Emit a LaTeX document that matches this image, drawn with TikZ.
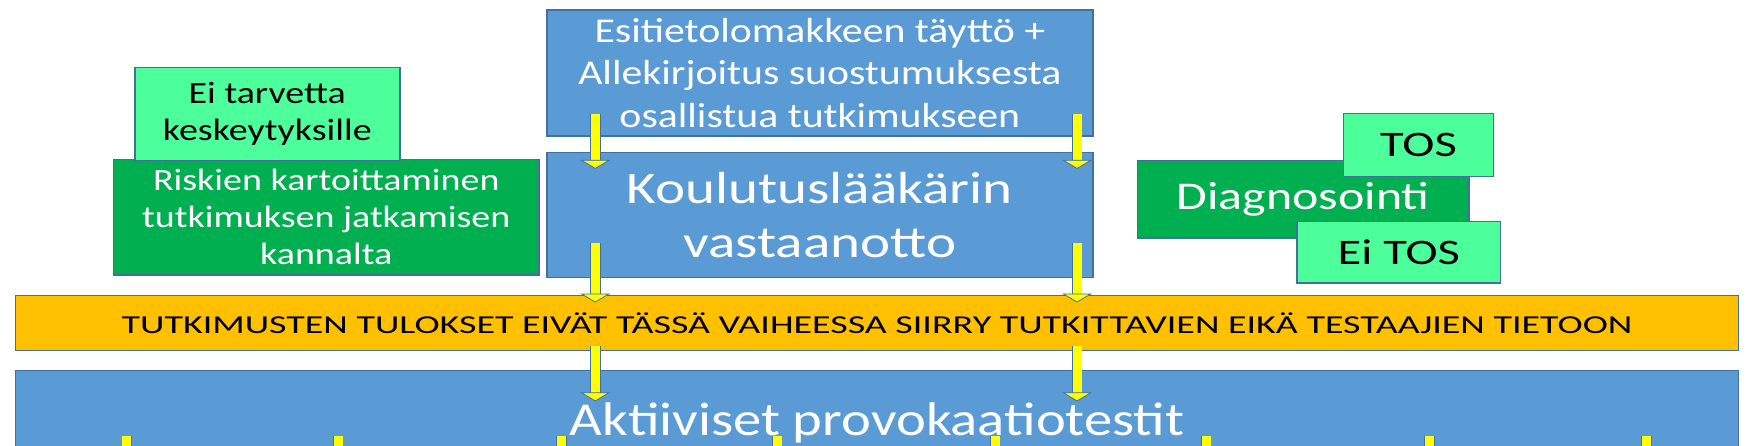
\documentclass[tikz,border=0pt]{standalone}
\usepackage{fontspec}
\setmainfont{Carlito}
\usetikzlibrary{arrows.meta,positioning}
\definecolor{boxblue}{RGB}{91,155,213}
\definecolor{edgeblue}{RGB}{65,113,156}
\definecolor{riskgreen}{RGB}{0,176,80}
\definecolor{mintgreen}{RGB}{76,255,155}
\definecolor{barorange}{RGB}{255,192,0}
\definecolor{arrowyellow}{RGB}{255,255,0}
\newcommand\boxfont[3]{\fontsize{#1}{#2}\selectfont\addfontfeatures{FakeStretch=#3}}
\tikzset{
  box/.style={draw=edgeblue, line width=1.3pt, inner sep=2pt, align=center},
  bluebox/.style={box, fill=boxblue, text=white},
  greenbox/.style={box, fill=riskgreen, text=white},
  mintbox/.style={box, fill=mintgreen, text=black},
  yarrow/.style={draw=edgeblue, line width=0.7pt, double=arrowyellow, double distance=8pt,
    -{Triangle[length=8pt, width=27pt, fill=arrowyellow, line width=0.7pt]}},
}
\begin{document}
\begin{tikzpicture}[x=1pt, y=-1pt]
    \useasboundingbox (0,0) rectangle (1568,397.1);
    \node[bluebox, minimum width=486pt, minimum height=112pt, font=\boxfont{31}{37.5}{1.2}]
      (esi) at (730,65) {Esitietolomakkeen täyttö +\\Allekirjoitus suostumuksesta\\osallistua tutkimukseen};
    \node[bluebox, minimum width=486pt, minimum height=111pt, font=\boxfont{40}{48}{1.27}]
      (kou) at (730,191.5) {Koulutuslääkärin\\vastaanotto};
    \node[greenbox, minimum width=379pt, minimum height=103pt, font=\boxfont{27.5}{33}{1.23}]
      (riski) at (290.5,193.5) {Riskien kartoittaminen\\tutkimuksen jatkamisen\\kannalta};
    \node[mintbox, minimum width=236pt, minimum height=83pt, font=\boxfont{27.5}{33}{1.23}]
      (eitarve) at (238,101.5) {Ei tarvetta\\keskeytyksille};
    \node[greenbox, minimum width=295pt, minimum height=69pt, font=\boxfont{35}{42}{1.27}]
      (diag) at (1160.5,177.5) {Diagnosointi};
    \node[mintbox, minimum width=134pt, minimum height=56pt, font=\boxfont{32}{38}{1.35}]
      (tos) at (1263,129) {TOS};
    \node[mintbox, minimum width=181pt, minimum height=55pt, font=\boxfont{32}{38}{1.35}]
      (eitos) at (1245.5,224.5) {Ei TOS};
    \node[box, fill=barorange, minimum width=1534pt, minimum height=49pt, font=\boxfont{23}{27}{1.47}]
      (tulos) at (781,287.5) {TUTKIMUSTEN TULOKSET EIVÄT TÄSSÄ VAIHEESSA SIIRRY TUTKITTAVIEN EIKÄ TESTAAJIEN TIETOON};
    \node[bluebox, minimum width=1534pt, minimum height=94pt, font=\boxfont{42}{50}{1.2}]
      (akt) at (781,377) {Aktiiviset provokaatiotestit};
    \coordinate (lane1) at (530,0);
    \coordinate (lane2) at (959,0);
    \foreach \l in {lane1,lane2} {
      \draw[yarrow] ([yshift=20pt]\l |- esi.south) -- ([yshift=-15pt]\l |- kou.north);
      \draw[yarrow] ([yshift=31pt]\l |- kou.south) -- ([yshift=-7pt]\l |- tulos.north);
      \draw[yarrow] ([yshift=5pt]\l |- tulos.south) -- ([yshift=-28pt]\l |- akt.north);
    }
    \foreach \xx [count=\i] in {113,301,500,692,886,1074,1273,1466} {
      \coordinate (test\i) at (\xx,450);
      \draw[yarrow] ([yshift=-59pt]test\i |- akt.north) -- (test\i);
    }
\end{tikzpicture}
\end{document}
